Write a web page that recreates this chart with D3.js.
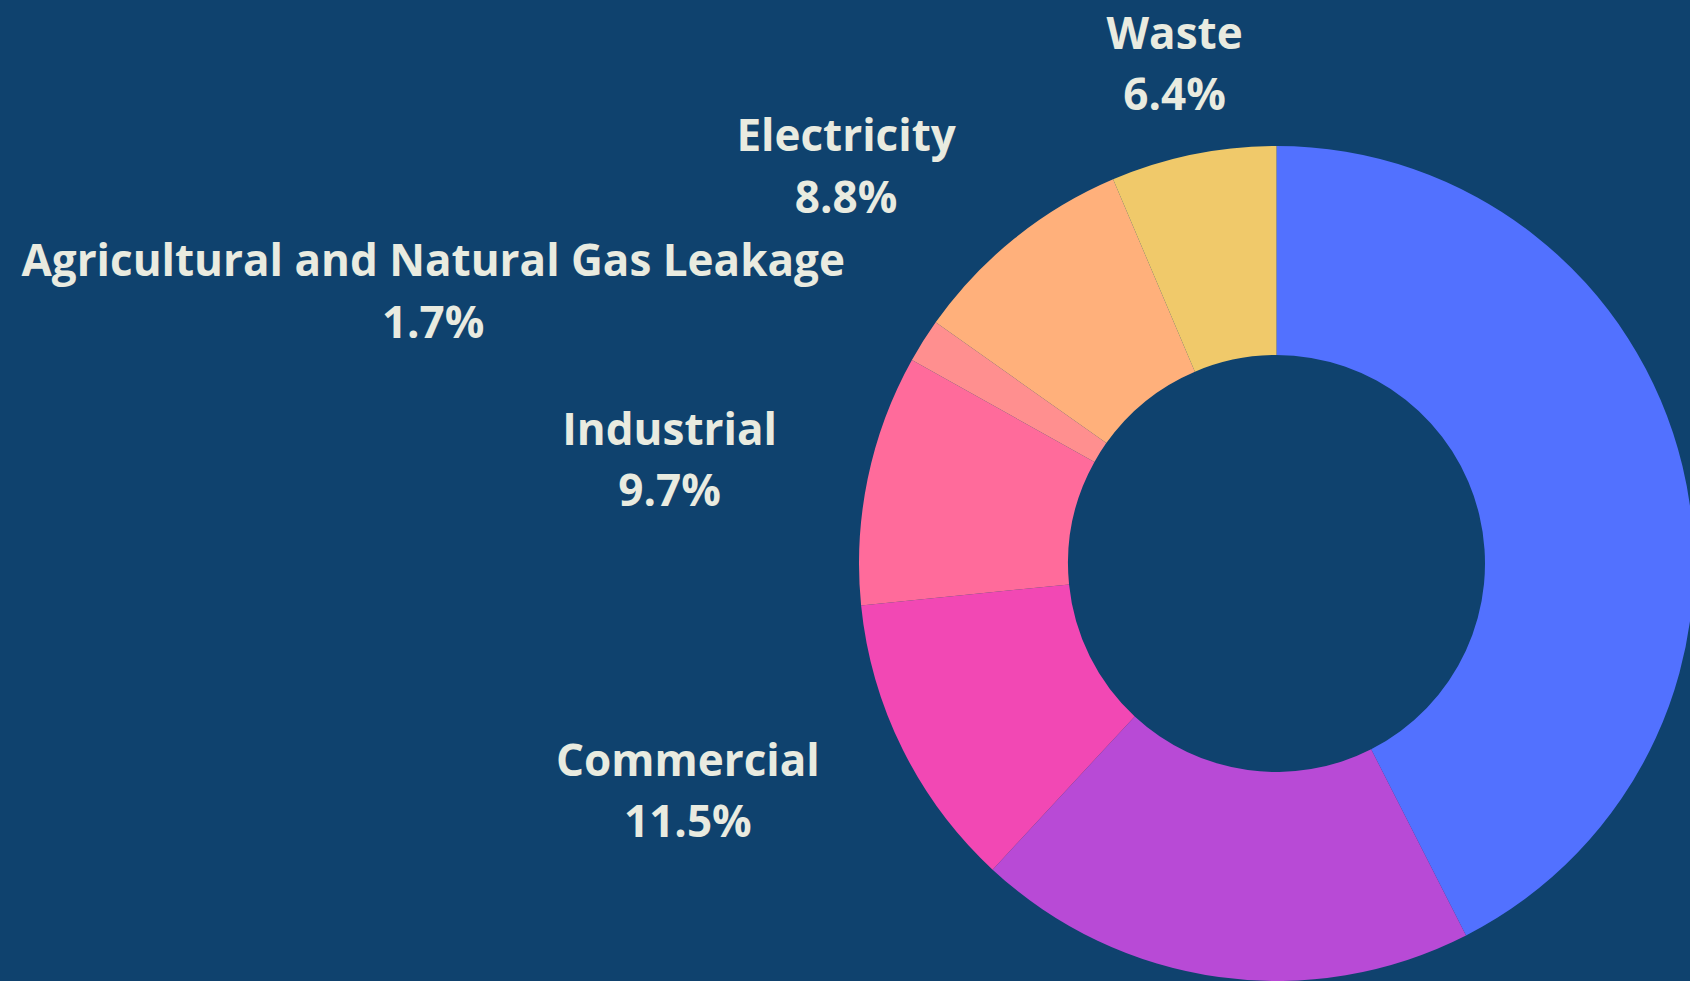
<!DOCTYPE html>
<meta charset="utf-8">
<style>
  body { margin: 0; background: #0f426e; overflow: hidden; }
  svg { display: block; }
  .lbl { font-family: "Open Sans", sans-serif; font-weight: 700; font-size: 44px; fill: #e9ebe0; }
</style>
<svg width="1690" height="981"></svg>
<script src="https://d3js.org/d3.v7.min.js"></script>
<script>

// data, clockwise from 12 o'clock
var sectors = ["Transportation", "Residential", "Commercial", "Industrial",
               "Agricultural and Natural Gas Leakage", "Electricity", "Waste"];
var shares = [42.5, 19.4, 11.5, 9.7, 1.7, 8.8, 6.4];
var sliceColors = ["#5271ff", "#b84ad6", "#f248b4", "#ff6b9b", "#ff8f8f", "#ffb07b", "#f0c96a"];

var svg = d3.select("svg"),
    width = +svg.attr("width"),
    height = +svg.attr("height");

// donut geometry
var cx = 1276.5, cy = 563.5,
    rOut = 417.5, rIn = 208.5,
    rLabel = rOut * 1.222;   // where the label block is hooked

var fs = 44, lineGap = 61.4, capH = fs * 0.714;

var data = sectors.map(function(s, i) { return {name: s, value: shares[i], color: sliceColors[i]}; });

var pie = d3.pie().sort(null).value(function(d) { return d.value; });
var arc = d3.arc().innerRadius(rIn).outerRadius(rOut);
var fmt = d3.format(".1f");

var g = svg.append("g").attr("transform", "translate(" + cx + "," + cy + ")");

g.selectAll("path")
  .data(pie(data))
  .enter().append("path")
    .attr("d", arc)
    .attr("fill", function(d) { return d.data.color; });

function side(d) {
  var s = Math.sin((d.startAngle + d.endAngle) / 2);
  if (Math.abs(s) < 0.35) return 0;
  return s > 0 ? 1 : -1;
}

var lbl = g.selectAll("text.lbl")
  .data(pie(data))
  .enter().append("text")
    .attr("class", "lbl")
    .attr("text-anchor", "middle")
    .attr("transform", function(d) {
      var m = (d.startAngle + d.endAngle) / 2;
      return "translate(" + (Math.sin(m) * rLabel) + "," + (-Math.cos(m) * rLabel) + ")";
    });

// two centred lines: name, then share
lbl.append("tspan")
    .attr("x", 0)
    .attr("y", -lineGap / 2 + capH / 2)
    .text(function(d) { return d.data.name; });
lbl.append("tspan")
    .attr("x", 0)
    .attr("y", lineGap / 2 + capH / 2)
    .text(function(d) { return fmt(d.data.value) + "%"; });

// hook the block by its inner edge, drop the ones that fall off the page
lbl.each(function(d) {
  var t = d3.select(this);
  var w = this.getBBox().width;
  var off = side(d) * w / 2;
  t.selectAll("tspan").attr("x", off);
  var m = (d.startAngle + d.endAngle) / 2;
  var px = cx + Math.sin(m) * rLabel + off, py = cy - Math.cos(m) * rLabel;
  if (px - w / 2 < 0 || px + w / 2 > width || py - lineGap < 0 || py + lineGap > height) t.remove();
});

</script>
